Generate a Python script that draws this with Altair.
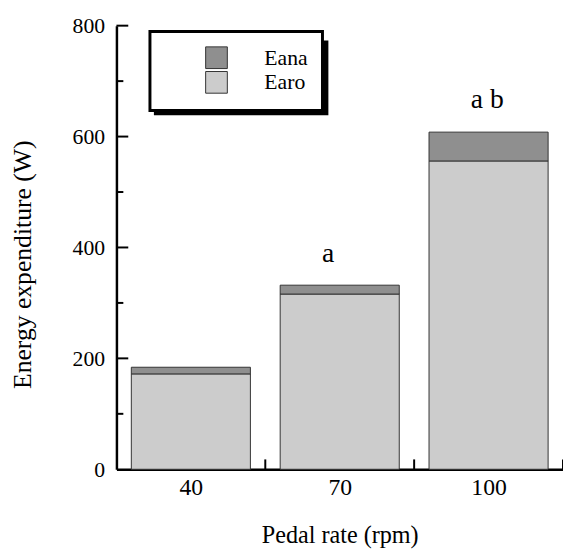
import altair as alt
import pandas as pd

pedal = ["40", "70", "100"]
earo = [172, 316, 556]
eana = [12, 16, 52]
sig_marks = ["", "a", "a b"]
series = ["Eana", "Earo"]
colors = ["#8f8f8f", "#cccccc"]
y_major = [200, 400, 600, 800]
y_minor = [100, 300, 500, 700]
x_bounds = [0.5, 1.5, 2.5]

FONT = "Liberation Serif"

rows = []
for i, p in enumerate(pedal):
    rows.append({"idx": i, "pedal": p, "series": "Earo", "value": earo[i], "ord": 0})
    rows.append({"idx": i, "pedal": p, "series": "Eana", "value": eana[i], "ord": 1})
bars_df = pd.DataFrame(rows)

ann_df = pd.DataFrame({
    "idx": list(range(len(pedal))),
    "total": [a + b for a, b in zip(earo, eana)],
    "label": sig_marks,
})

label_expr = "[" + ",".join("'%s'" % p for p in pedal) + "][datum.value]"

xscale = alt.Scale(domain=[-0.5, 2.5], zero=False, nice=False)
yscale = alt.Scale(domain=[0, 800], nice=False)

xaxis = alt.Axis(values=[0, 1, 2], labelExpr=label_expr, title="Pedal rate (rpm)",
                 ticks=False, tickSize=0, grid=False, domainColor="black",
                 domainWidth=2.5, labelFont=FONT, labelFontSize=24, labelColor="black",
                 labelPadding=7, titleFont=FONT, titleFontSize=24.5, titleFontWeight="normal",
                 titleColor="black", titlePadding=24)
yaxis = alt.Axis(values=[0, 200, 400, 600, 800], title="Energy expenditure (W)",
                 ticks=False, tickSize=0, grid=False, domainColor="black",
                 domainWidth=2.5, labelFont=FONT, labelFontSize=22, labelColor="black",
                 labelPadding=12, titleFont=FONT, titleFontSize=26, titleFontWeight="normal",
                 titleColor="black", titleX=-95, titleY=242, titleAlign="center",
                 titleBaseline="middle", titleAngle=270)

bars = alt.Chart(bars_df).transform_stack(
    stack="value", groupby=["idx"], as_=["v0", "v1"], sort=[alt.SortField("ord")]
).transform_calculate(
    x0="datum.idx - 0.4", x1="datum.idx + 0.4"
).mark_rect(stroke="#333333", strokeWidth=1).encode(
    x=alt.X("x0:Q", scale=xscale, axis=xaxis),
    x2="x1:Q",
    y=alt.Y("v0:Q", scale=yscale, axis=yaxis),
    y2="v1:Q",
    color=alt.Color("series:N", scale=alt.Scale(domain=series, range=colors),
                    legend=alt.Legend(orient="none", legendX=34, legendY=6, title=None,
                                      padding=15, symbolType="square", symbolSize=484,
                                      symbolStrokeColor="#333333", symbolStrokeWidth=1,
                                      symbolOffset=41, labelOffset=37, rowPadding=-2,
                                      labelFont=FONT, labelFontSize=22, labelColor="black",
                                      strokeColor="black", fillColor="white")),
)

ann = alt.Chart(ann_df).mark_text(font=FONT, fontSize=28, align="left", baseline="alphabetic",
                                  dx=-18, dy=-24, color="black").encode(
    x=alt.X("idx:Q", scale=xscale, axis=xaxis),
    y=alt.Y("total:Q", scale=yscale, axis=yaxis),
    text="label:N",
)

major = alt.Chart(pd.DataFrame({"v": y_major})).mark_rule(color="black", strokeWidth=2).encode(
    y=alt.Y("v:Q", scale=yscale, axis=yaxis), x=alt.value(0), x2=alt.value(12))
minor = alt.Chart(pd.DataFrame({"v": y_minor})).mark_rule(color="black", strokeWidth=2).encode(
    y=alt.Y("v:Q", scale=yscale, axis=yaxis), x=alt.value(0), x2=alt.value(7))
xticks = alt.Chart(pd.DataFrame({"b": x_bounds})).mark_rule(color="black", strokeWidth=2).encode(
    x=alt.X("b:Q", scale=xscale, axis=xaxis), y=alt.value(450), y2=alt.value(440))

shadow = alt.Chart(pd.DataFrame({"s": [0]})).mark_rect(color="black").encode(
    x=alt.value(38), x2=alt.value(215), y=alt.value(15), y2=alt.value(91))

chart = alt.layer(bars, shadow, ann, major, minor, xticks).properties(
    width=453, height=450,
    autosize=alt.AutoSizeParams(type="none"),
    padding={"left": 110, "top": 14, "right": 0, "bottom": 80},
).configure_view(stroke=None).configure_legend(strokeWidth=3)

chart.save("out.html", embed_options={"renderer": "svg", "actions": False})
